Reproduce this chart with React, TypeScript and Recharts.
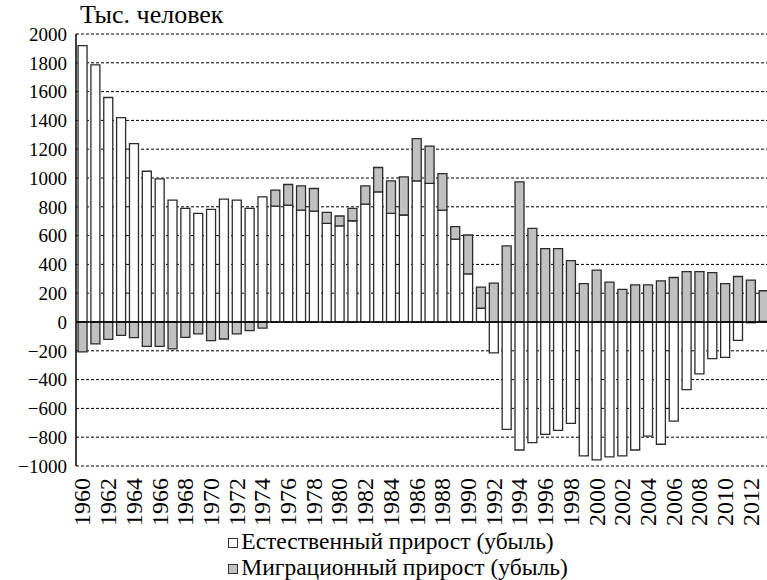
import React from 'react';
import { BarChart, Bar, XAxis, YAxis, CartesianGrid, ReferenceLine, Legend } from 'recharts';

// Годы
const years = [
  '1960', '1961', '1962', '1963', '1964', '1965', '1966', '1967', '1968', '1969',
  '1970', '1971', '1972', '1973', '1974', '1975', '1976', '1977', '1978', '1979',
  '1980', '1981', '1982', '1983', '1984', '1985', '1986', '1987', '1988', '1989',
  '1990', '1991', '1992', '1993', '1994', '1995', '1996', '1997', '1998', '1999',
  '2000', '2001', '2002', '2003', '2004', '2005', '2006', '2007', '2008', '2009',
  '2010', '2011', '2012', '2013',
];

// Естественный прирост (убыль), тыс. человек
const naturalGrowth = [
  1919, 1785, 1559, 1419, 1239, 1047, 994, 846, 789, 754,
  782, 853, 846, 789, 869, 805, 812, 777, 770, 685,
  668, 703, 819, 904, 754, 743, 980, 962, 777, 576,
  334, 97, -215, -745, -889, -837, -780, -752, -704, -930,
  -958, -937, -930, -889, -792, -849, -688, -469, -360, -254,
  -245, -127, -5, 5,
];

// Миграционный прирост (убыль), тыс. человек
const migrationGrowth = [
  -208, -152, -120, -93, -109, -169, -169, -187, -107, -83,
  -129, -118, -83, -60, -42, 111, 143, 168, 157, 76,
  68, 86, 126, 169, 226, 265, 293, 260, 254, 86,
  270, 145, 270, 528, 973, 650, 509, 509, 426, 267,
  360, 277, 226, 258, 258, 286, 309, 350, 350, 343,
  267, 316, 291, 212,
];

const yTicks = [-1000, -800, -600, -400, -200, 0, 200, 400, 600, 800, 1000, 1200, 1400, 1600, 1800, 2000];

const data = years.map((year, i) => ({
  year,
  natural: naturalGrowth[i],
  migration: migrationGrowth[i],
}));

const FONT = '"Liberation Serif", "Times New Roman", serif';

const fmt = (v: number) => (v < 0 ? '\u2212' + Math.abs(v) : String(v));

const YearTick = (props: any) => {
  const { x, y, payload } = props;
  return (
    <text
      x={0}
      y={0}
      transform={`translate(${x + 8},${y + 4}) rotate(-90)`}
      textAnchor="end"
      fontFamily={FONT}
      fontSize={24}
      fill="#000"
    >
      {payload.value}
    </text>
  );
};

const Marker = ({ fill }: { fill: string }) => (
  <span
    style={{
      display: 'inline-block',
      width: 8,
      height: 8,
      border: '1px solid #333',
      background: fill,
      marginRight: 3,
      verticalAlign: 'middle',
      position: 'relative',
      top: -1,
    }}
  />
);

const LegendBox = () => (
  <div style={{ width: '100%', paddingLeft: 16, boxSizing: 'border-box', textAlign: 'center', fontFamily: FONT, fontSize: 23.5, lineHeight: '26px', color: '#000' }}>
    <div style={{ display: 'inline-block', textAlign: 'left' }}>
      <div>
        <Marker fill="#ffffff" />
        Естественный прирост (убыль)
      </div>
      <div>
        <Marker fill="#c0c0c0" />
        Миграционный прирост (убыль)
      </div>
    </div>
  </div>
);

export default function App() {
  return (
    <div style={{ position: 'fixed', left: 0, top: 0, width: 767, height: 580, overflow: 'hidden', background: '#fff' }}>
      <BarChart
        width={780}
        height={580}
        data={data}
        stackOffset="sign"
        margin={{ top: 34, right: 10, left: 0, bottom: 0 }}
        barCategoryGap="16%"
      >
        <CartesianGrid vertical={false} stroke="#000" strokeDasharray="3 2" />
        <XAxis
          dataKey="year"
          interval={1}
          tick={<YearTick />}
          tickLine={false}
          axisLine={false}
          height={62}
        />
        <YAxis
          domain={[-1000, 2000]}
          ticks={yTicks}
          width={76}
          tickFormatter={fmt}
          tickLine={false}
          tickSize={0}
          tickMargin={9}
          axisLine={{ stroke: '#000', strokeWidth: 1.5 }}
          tick={{ fontFamily: FONT, fontSize: 19, fill: '#000' }}
          allowDataOverflow
        />
        <Bar dataKey="natural" stackId="a" fill="#ffffff" stroke="#2b2b2b" strokeWidth={1.3} isAnimationActive={false} />
        <Bar dataKey="migration" stackId="a" fill="#c0c0c0" stroke="#2b2b2b" strokeWidth={1.3} isAnimationActive={false} />
        <ReferenceLine y={0} stroke="#000" strokeWidth={1.5} />
        <Legend verticalAlign="bottom" height={52} wrapperStyle={{ left: 0, width: 780 }} content={() => <LegendBox />} />
        <text x={80} y={23} fontFamily={FONT} fontSize={26} fill="#000">
          Тыс. человек
        </text>
      </BarChart>
    </div>
  );
}
